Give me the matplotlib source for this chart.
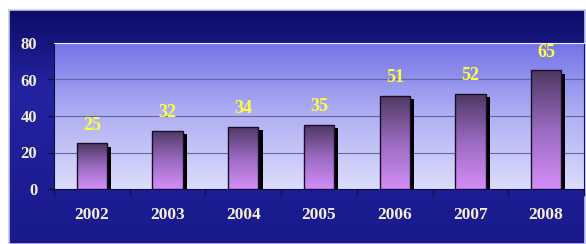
import numpy as np
import matplotlib.pyplot as plt
from matplotlib.colors import LinearSegmentedColormap

# data
years = ['2002', '2003', '2004', '2005', '2006', '2007', '2008']
values = [25, 32, 34, 35, 51, 52, 65]
yticks = [0, 20, 40, 60, 80]

serif = ['Liberation Serif', 'DejaVu Serif']

panel_cmap = LinearSegmentedColormap.from_list('panel', ['#1a1a8e', '#1e1e96', '#2424a2', '#0c0c66'])
plot_cmap = LinearSegmentedColormap.from_list('plot', ['#dcdcfb', '#b0b0f4', '#7474e8'])
bar_cmap = LinearSegmentedColormap.from_list('bar', ['#d48ef8', '#9a6ac0', '#4e3862'])

fig = plt.figure(figsize=(5.86, 2.44), dpi=100)
fig.patch.set_facecolor('white')

# dark blue panel behind the chart
bg = fig.add_axes([9/586, 0, 576/586, 234/244])
grad = np.linspace(0, 1, 256).reshape(-1, 1)
bg.imshow(grad, cmap=panel_cmap, aspect='auto', origin='lower', extent=[0, 1, 0, 1])
bg.set_xticks([])
bg.set_yticks([])
for s in bg.spines.values():
    s.set_color('#c8c8e8')
    s.set_linewidth(1.2)

ax = fig.add_axes([54/586, 55/244, 530/586, 146/244])
x = np.arange(len(years))
ax.set_xlim(-0.5, len(years) - 0.5)
ax.set_ylim(0, 80)

# plot area gradient
ax.imshow(grad, cmap=plot_cmap, aspect='auto', origin='lower',
          extent=[-0.5, len(years) - 0.5, 0, 80], zorder=0)

for g in [20, 40, 60]:
    ax.axhline(g, color='#6464a8', lw=0.8, zorder=1)

# shadows
ax.bar(x + 0.055, np.array(values) - 1.8, width=0.4, color='black', zorder=2)

# bars with gradient fill
bars = ax.bar(x, values, width=0.4, color='none', edgecolor='#1c0c2c', lw=1.0, zorder=4)
for b in bars:
    x0, w, h = b.get_x(), b.get_width(), b.get_height()
    im = ax.imshow(grad, cmap=bar_cmap, aspect='auto', origin='lower',
                   extent=[x0, x0 + w, 0, h], zorder=3)
    im.set_clip_path(b)

for xi, v in zip(x, values):
    ax.annotate(str(v), (xi, v), xytext=(0, 7), textcoords='offset points',
                ha='center', va='bottom', color='#ffff38', fontsize=13,
                fontweight='bold', family=serif, zorder=5)

ax.set_yticks(yticks)
ax.set_yticklabels([str(t) for t in yticks], color='#f4f0d0', fontsize=12,
                   fontweight='bold', family=serif)
ax.set_xticks(x)
ax.set_xticklabels(years, color='#f4f0d0', fontsize=12.5, fontweight='bold', family=serif)
ax.set_xticks(np.arange(-0.5, len(years), 1.0), minor=True)
ax.tick_params(axis='x', which='major', length=0, pad=13)
ax.tick_params(axis='x', which='minor', length=5, width=1, color='#101040', direction='out')
ax.tick_params(axis='y', length=4, width=1, color='#101040', pad=8)

ax.spines['left'].set_color('#101040')
ax.spines['bottom'].set_color('#101040')
ax.spines['top'].set_color('#e8e8ff')
ax.spines['right'].set_color('#101060')

fig.savefig('out.png', dpi=100)
